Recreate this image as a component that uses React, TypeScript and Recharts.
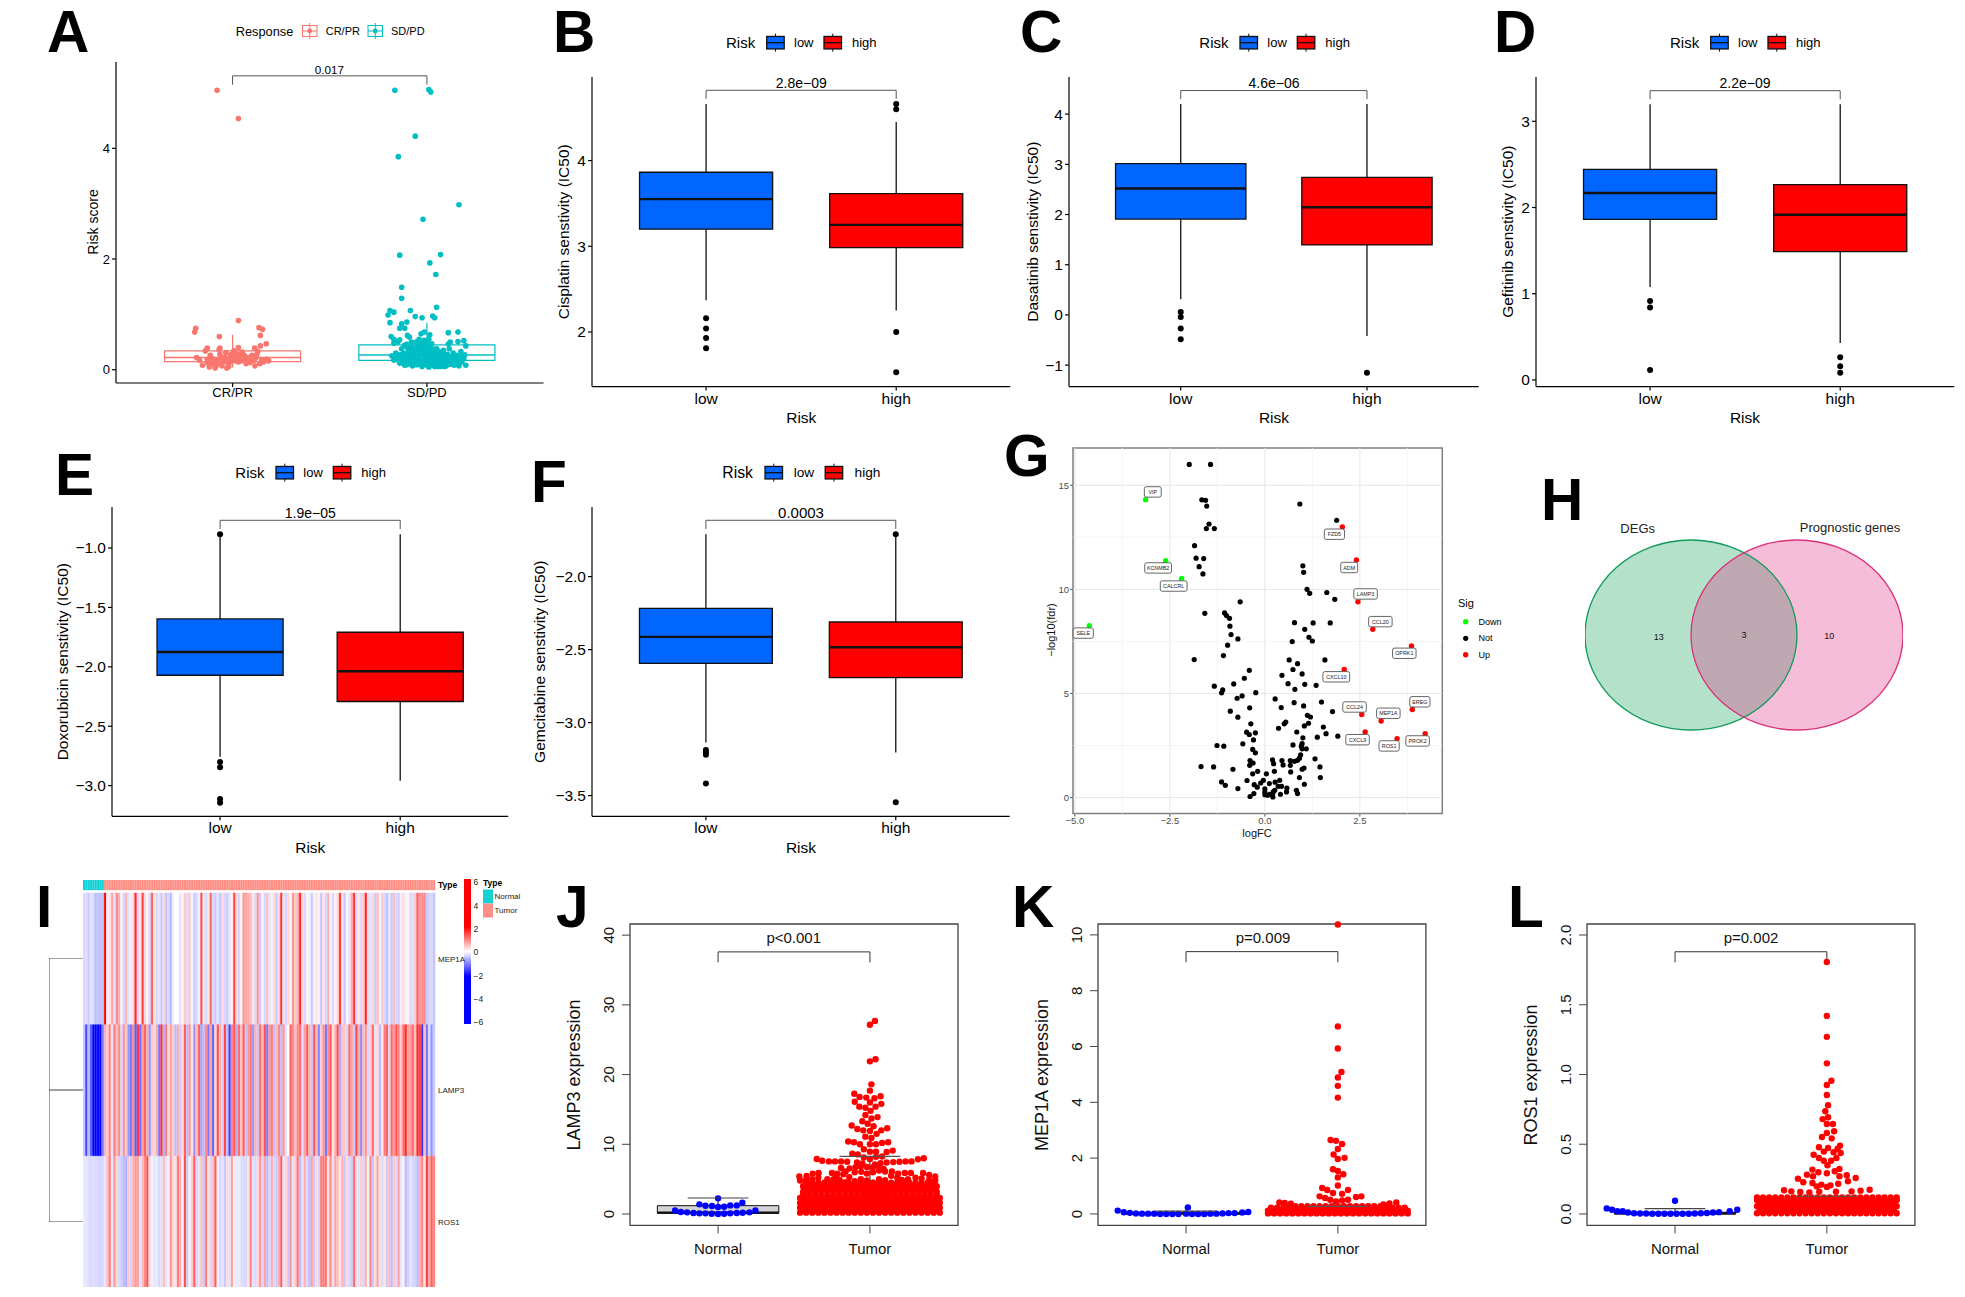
import React from 'react'
import { ScatterChart, Scatter, BarChart, Bar, Cell, XAxis, YAxis, ReferenceLine, ReferenceArea } from 'recharts'

// panel A: jittered x, risk score
const crPrPoints = [[.92,5.05],[1.03,4.54],[1.03,.89],[.81,.75],[.805,.68],[1.136,.76],[1.154,.73],[1.143,.62],[.932,.6],[1.173,.47],[1.143,.43],[1.03,.4],[.87,.39],[.86,.34],[.93,.36],[.935,.39],[1.114,.39],[1.13,.33],[1.007,.34],[.965,.31],
  [.815,.22],[.83,.17],[.845,.08],[.87,.13],[.88,.05],[.885,.26],[.895,.2],[.905,.1],[.91,.03],[.92,.17],[.935,.28],[.945,.07],[.95,.14],[.96,.23],[.97,.03],[.975,.12],[.985,.2],[.99,.27],[1.0,.19],[1.005,.3],[1.015,.16],[1.025,.24],[1.04,.2],[1.05,.32],[1.06,.26],[1.07,.11],[1.08,.22],[1.09,.13],[1.1,.26],[1.11,.17],[1.115,.07],[1.125,.28],[1.14,.11],[1.16,.14],[1.185,.16],[1.175,.19],[.9,.15],[.94,.22],[.98,.06],[1.03,.14],[1.06,.18],[.965,.17],[1.02,.29],[.87,.19],
  [.89,.12],[.915,.07],[.93,.12],[.955,.18],[.99,.14],[1.01,.23],[1.035,.27],[1.045,.16],[1.075,.17],[1.095,.2],[1.12,.22],[1.15,.18]]
const sdPdPoints = [[1.835,5.05],[2.01,5.06],[2.02,5.02],[1.94,4.22],[1.853,3.85],[2.165,2.98],[1.98,2.72],[2.07,2.08],[1.86,2.07],[2.015,1.93],[2.046,1.72],[1.87,1.49],[1.87,1.29],[2.05,1.13],[1.915,1.07],[1.81,1.07],[1.83,1.04],[1.8,.99],[1.94,.96],[1.975,.94],[2.04,.94],[2.03,.97],[1.81,.85],[1.897,.86],[1.87,.83],[1.86,.75],[1.886,.75],[2.11,.67],[2.16,.68],[1.987,.68],[1.97,.65],[2.015,.63],[1.9,.62],[1.816,.6],[1.83,.55],[1.86,.54],[1.91,.59],[2.19,.525],[2.16,.51],[2.11,.465],[2.2,.43],
  [1.82,.25],[1.84,.3],[1.85,.18],[1.86,.12],[1.87,.38],[1.875,.22],[1.88,.3],[1.885,.08],[1.89,.16],[1.895,.46],[1.9,.27],[1.905,.35],[1.91,.11],[1.915,.2],[1.92,.42],[1.925,.07],[1.93,.3],[1.935,.15],[1.94,.24],[1.945,.5],[1.95,.09],[1.955,.36],[1.96,.19],[1.965,.44],[1.97,.28],[1.975,.06],[1.98,.14],[1.985,.53],[1.99,.33],[1.995,.22],[2.0,.1],[2.005,.4],[2.01,.05],[2.015,.27],[2.02,.17],[2.025,.47],[2.03,.08],[2.035,.32],[2.04,.21],[2.045,.13],[2.05,.38],[2.055,.06],[2.06,.26],[2.065,.16],[2.07,.1],[2.075,.3],[2.08,.19],[2.085,.35],[2.09,.12],[2.095,.24],[2.1,.07],[2.105,.28],[2.11,.18],[2.115,.38],[2.12,.1],[2.125,.22],[2.13,.14],[2.135,.3],[2.14,.08],[2.145,.2],[2.15,.12],[2.155,.26],[2.16,.17],[2.165,.07],[2.17,.23],[2.175,.33],[2.18,.14],[2.19,.2],[2.2,.08],[2.195,.27],
  [1.86,.27],[1.88,.2],[1.9,.13],[1.92,.26],[1.94,.33],[1.96,.1],[1.98,.4],[2,.25],[2.02,.34],[2.04,.29],[2.06,.15],[2.08,.09],[2.1,.2],[1.87,.15],[1.91,.31],[1.93,.17],[1.95,.23],[1.97,.16],[1.99,.12],[2.01,.19],[2.03,.23],[2.05,.11],[2.07,.19],[2.09,.27],[2.11,.1],[2.13,.2],[2.15,.18],[1.97,.37],[1.99,.47],[2.01,.55],[1.96,.55],[1.92,.5],[1.885,.44],[1.85,.5],[1.83,.48],[2.12,.5],
  [1.88,.12],[1.895,.09],[1.905,.21],[1.92,.14],[1.93,.08],[1.945,.18],[1.955,.12],[1.965,.29],[1.98,.08],[1.985,.25],[1.995,.16],[2.005,.07],[2.01,.32],[2.02,.12],[2.03,.17],[2.04,.06],[2.05,.25],[2.06,.09],[2.07,.24],[2.08,.14],[2.09,.06],[2.1,.15],[2.12,.17],[2.14,.14],[2.16,.09],[2.17,.13],[2.18,.21],[1.9,.4],[1.93,.38],[1.95,.43],[1.97,.47],[2,.33],[2.02,.41],[2.04,.37],[2.06,.33],[2,.47],[1.94,.11],[1.96,.27],[1.99,.2],[2.03,.12],[2.07,.06],[1.84,.22],[1.86,.2],[1.83,.17],[1.89,.25],[2.05,.16],[2.11,.24],[2.14,.26]]
// box stats: lower whisker, q1, median, q3, upper whisker
const crPrBox = [.04,.145,.22,.34,.63]
const sdPdBox = [.05,.17,.265,.45,.85]

// panels B-F
const cisplatinLow = [2.37,3.2,3.55,3.864,4.66]
const cisplatinHigh = [2.25,2.985,3.25,3.615,4.45]
const cisplatinOutLow = [2.16,2.04,1.93,1.81]
const cisplatinOutHigh = [4.66,4.6,2.0,1.53]
const dasatinibLow = [.31,1.91,2.52,3.015,4.2]
const dasatinibHigh = [-.42,1.395,2.145,2.74,4.2]
const dasatinibOutLow = [.06,-.04,-.27,-.485]
const dasatinibOutHigh = [-1.15]
const gefitinibLow = [1.078,1.863,2.168,2.443,3.197]
const gefitinibHigh = [.429,1.488,1.917,2.265,3.197]
const gefitinibOutLow = [.916,.839,.116]
const gefitinibOutHigh = [.263,.158,.085]
const doxoLow = [-2.757,-2.071,-1.875,-1.597,-.885]
const doxoHigh = [-2.958,-2.292,-2.037,-1.709,-.885]
const doxoOutLow = [-.885,-2.8,-2.845,-3.112,-3.143]
const doxoOutHigh = []
const gemLow = [-3.137,-2.594,-2.413,-2.217,-1.71]
const gemHigh = [-3.205,-2.692,-2.484,-2.311,-1.71]
const gemOutLow = [-3.187,-3.205,-3.221,-3.418]
const gemOutHigh = [-1.71,-3.546]

// panel G: logFC, -log10(fdr)
const notSig = [[-1.99,16],[-1.43,16],[-1.66,14.3],[-1.56,14.28],[-1.53,14],[.92,14.1],[-1.47,13.14],[-1.54,12.92],[-1.33,12.92],[1.89,13.32],[-1.85,12.1],[-1.81,11.5],[-1.61,11.48],[-1.73,11.09],[-1.63,10.74],[1,11.13],[1.02,10.82],[1.11,10],[1.18,9.81],[1.63,9.85],[1.84,9.52],[-.65,9.4],[-1.58,8.85],[-1.06,8.87],[-1.01,8.74],[-.93,8.61],[-.92,8.23],[-.89,7.83],[-.71,7.62],[-.98,7.32],[-1.09,6.82],[-1.86,6.63],[.78,8.4],[1.27,8.39],[1.72,8.39],[1.05,8.08],[1.16,7.7],[1.25,7.52],[.72,7.49],[.64,6.61],[.86,6.43],[1.58,6.61],[-.41,6.11],[.74,6.15],[.98,5.94],[.45,5.87],[-.54,5.73],[-.82,5.46],[.61,5.47],[1.05,5.44],[1.35,5.39],[-1.33,5.35],[-1.11,5.17],[-1.14,5.03],[.79,5.2],[-.24,5.04],[-.6,4.88],[-.73,4.77],[.27,4.74],[.77,4.56],[1.49,4.59],[1.02,4.4],[-.4,4.31],[.43,4.32],[-.91,4.15],[1.78,4.13],[1.12,3.95],[1.2,3.87],[-.71,3.86],[.55,3.63],[.51,3.54],[1.15,3.57],[-.37,3.54],[1.04,3.44],[1.54,3.39],[.36,3.33],[.84,3.15],[-.48,3.14],[-.41,3.03],[-.25,3.11],[1.61,3.07],[1.92,2.95],[1.38,2.9],[1,2.87],[-.3,2.77],[-.58,2.58],[.98,2.59],[-1.26,2.5],[-1.08,2.47],[.74,2.53],[.96,2.47],[.98,2.34],[1.09,2.34],[-.32,2.31],[-.25,2.15],[.94,2.05],[1.32,1.86],[.91,1.89],[.86,1.79],[.2,1.81],[.45,1.78],[.67,1.78],[.78,1.74],[-.39,1.78],[-.4,1.55],[-.31,1.66],[.23,1.63],[.48,1.57],[.67,1.55],[-1.68,1.49],[-1.35,1.47],[1.45,1.47],[1.03,1.42],[.98,1.36],[-.84,1.36],[-.19,1.26],[.25,1.26],[.68,1.23],[-.32,1.14],[.04,1.14],[.91,.96],[1.46,.96],[.39,.83],[-.47,.82],[-.04,.83],[-.11,.7],[-1.14,.75],[-1.04,.59],[-.28,.62],[-.2,.5],[-.71,.43],[.12,.67],[.27,.74],[1.04,.64],[.35,.54],[.44,.54],[.58,.46],[0,.42],[.83,.35],[.57,.27],[.86,.19],[.41,.16],[.26,.35],[.22,.27],[.2,.16],[.13,.16],[0,.14],[0,.27],[.07,.11],[-.29,.19],[-.39,.05],[.21,.03]]
const upGenes = ['FZD5','ADM','LAMP3','CCL20','OPRK1','CXCL10','EREG','CCL24','MEP1A','CXCL9','PROK2','ROS1']
const upPoints = [[2.04,13],[2.41,11.41],[2.45,9.4],[2.84,8.08],[3.86,7.28],[2.09,6.15],[3.88,4.23],[2.55,3.99],[3.06,3.68],[2.64,3.15],[4.22,3.07],[3.48,2.83]]
const upLabels = [[1.83,12.65],[2.22,11.05],[2.65,9.78],[3.04,8.45],[3.67,6.93],[1.88,5.8],[4.08,4.6],[2.36,4.35],[3.25,4.05],[2.44,2.78],[4.02,2.72],[3.27,2.48]]
const downGenes = ['VIP','KCNMB2','CALCRL','SELE']
const downPoints = [[-3.14,14.31],[-2.61,11.38],[-2.19,10.52],[-4.62,8.26]]
const downLabels = [[-2.95,14.68],[-2.81,11.03],[-2.4,10.16],[-4.78,7.9]]

// panel H
const vennSets = [{ name: 'DEGs', x: -.5 }, { name: 'Prognostic genes', x: .5 }]

// panel I
const typeColumns = 9
const mep1a = [-.3,-.25,-.4,-.2,-.3,-.5,-.45,-.5,-.45,2,
  -.1,.2,.7,-.2,.9,.6,-.1,-.3,.6,-.2,
  -.1,.3,1.6,-.3,.2,1.4,.3,-.1,-.3,1.2,
  .2,-.3,-.2,-.4,.3,-.45,-.3,-.5,-.1,0,
  0,-.2,.1,.4,-.3,.4,-.1,-.4,-.3,-.1,
  1.3,-.2,-.3,.2,1.1,-.3,-.4,-.2,-.45,.3,
  -.3,-.4,-.2,.1,1.4,.3,-.3,.1,.8,.7,
  .6,.5,.2,-.3,.8,-.4,-.1,-.3,.5,-.2,
  -.1,.3,-.4,.2,1.5,-.2,-.3,.3,.1,.8,
  .4,.6,1.6,.3,-.3,.1,-.1,-.4,-.1,.2,
  .1,-.45,.2,-.3,.6,-.1,-.3,.1,.3,1.5,
  .2,-.4,.1,-.2,.6,1.5,-.3,.2,-.3,.4,
  1.6,-.3,-.2,.3,-.4,.5,-.1,.4,-.3,-.45,
  -.2,-.4,.5,-.3,-.35,-.1,.3,-.1,.1,-.3,
  -.25,.4,1.2,.8,.85,.9,-.4,-.35,-.3,-.45]
const lamp3 = [-.4,-1.4,-.5,-1.2,-2,-2.5,-2,-2.5,-1,.6,
  .4,.9,-.2,1,.5,.9,-.3,.8,.4,-.8,
  -1,.9,-1.2,1.5,-1.1,.8,1.2,.6,-.8,.4,
  .3,.6,-1,1.5,-.6,1,.3,.7,.4,-.5,
  .6,-.4,.3,1.2,-.5,.8,.2,-.8,.5,1.2,
  -.7,-.5,.9,-1,.7,-1.2,.3,1.3,.6,-.3,
  1.4,-.5,-1.4,.9,1.3,-.6,1.1,.5,1.2,-.4,
  .8,1,-.8,.6,-.4,1.1,.5,1.3,-1,.8,
  1,-.5,.5,.9,-.5,.8,-.2,0,1.2,.9,
  .5,.9,1.1,-.3,.7,1.2,.6,-.4,1.3,.5,
  -.9,.4,.8,-1,.9,1.2,.2,.6,1.3,-.6,
  .5,.4,-.3,1.1,.7,-.4,1.4,.6,-.9,.5,
  .8,-.3,.4,1.1,-.2,.3,-.5,.2,1,1.2,
  -.3,1.1,.8,1.3,.9,.4,1.1,1.6,.7,.8,
  1.1,.5,1.6,1.4,-1.5,.5,-1,-.3,-.8,-.4]
const ros1 = [-.15,-.2,-.25,-.3,-.25,-.3,-.3,-.35,-.3,-.2,
  .5,1,-.2,.8,.3,-.3,-.4,-.5,-.6,.4,
  -.3,.6,.8,.7,-.2,.5,.9,1.3,.3,-.1,
  -.2,-.15,-.3,-.2,.5,-.2,-.1,.8,.3,.2,
  1,.6,-.1,1.3,-.4,-.1,.4,1.2,-.3,-.2,
  .5,-.4,1,.2,-.3,.5,1.2,-.1,-.3,-.2,
  -.4,.3,-.2,.7,.1,-.15,-.15,-.25,-.3,-.3,
  .2,.9,-.2,-.3,.3,.8,-.3,.7,-.5,-.3,
  .6,-.3,-.4,.6,1.2,-.2,.3,-.4,.8,-.2,
  .4,1,-.5,-.2,.6,-.3,-.5,.7,-.4,.3,
  -.3,1,1,1,.2,.9,-.2,.7,.5,.2,
  .6,-.4,.3,-.3,-.4,1.1,.3,-.2,.4,-.3,
  .6,-.1,.9,-.4,.3,.7,.2,-.3,.2,-.4,
  .5,-.5,.4,-.3,.7,-.2,.1,-.5,-.35,-.2,
  -.3,-.35,-.5,.6,.9,.2,1.4,.7,1.2,.9]
const dendroTrunkX = [1,0,0,1]
const dendroTrunkY = [0,0,1,1]
const dendroBranchX = [0,1]
const dendroBranchY = [.5,.5]

// panels J-L. Single dots are [x, y]; the packed bottom of each swarm is [y, count]
const lampNormal = [[.717,.52],[.755,.29],[.796,.24],[.838,.14],[.877,.1],[.917,.1],[.958,.05],[1,0],[1.04,.05],[1.08,.1],[1.123,.14],[1.162,.19],[1.206,.24],[1.246,.52],[.877,1.39],[.917,1.19],[.96,1.15],[1,1],[1.04,1.05],[1.08,1.24],[1.123,1.24],[1.16,1.62],[1,2.25]]
const lampTumor = [[2.033,27.7],[2,27.15],[2.037,22.2],[2,21.9],[2.01,18.6],[2,17.7],[1.897,17.25],[1.932,16.8],[1.976,16.7],[2.03,16.6],[2.07,16.9],[1.9,16.1],[2,16],[2.075,15.8],[1.93,15.4],[1.97,15.25],[2.037,15.4],[2.004,14.8],[1.97,14.2],[2.01,13.7],[2.05,13.9],[1.95,13.3],[1.985,12.95],[1.88,12.7],[1.917,12.2],[1.956,12],[2,11.9],[2.024,12.6],[2.075,12],[2.114,12.3],[2.044,11.5],[1.97,11.1],[2.01,10.9],[1.857,10.4],[1.895,10.3],[1.934,10],[2,10],[2.04,10],[2.08,10.2],[2.12,10.3],[1.96,9.3],[2,8.95],[2.04,8.95],[2.11,8.9],[2.15,9.1],[1.884,8.65],[1.92,8.55],[2.355,8],[1.65,7.9],[2.316,7.85],[1.96,8.1],[2,7.9],[2.04,8.2],[2.08,8.25],[1.686,7.65],[1.73,7.55],[1.77,7.55],[1.81,7.55],[1.85,7.5],[1.915,7.4],[1.95,7.25],[2.033,7.1],[2.07,7.3],[2.11,7.4],[2.154,7.45],[2.195,7.5],[2.235,7.55],[2.274,7.55],
  [1.81,6.6],[1.866,6.55],[2.09,6.45],[1.75,5.9],[1.785,5.8],[1.825,5.7],[1.864,5.3],[1.9,6],[1.943,6.05],[1.98,5.8],[2.02,6],[2.06,6.25],[2.145,6.1],[2.186,5.8],[2.23,5.9],[2.27,5.9],[2.35,5.9],[2.39,5.6],[2.43,5.4],[2.3,5.2],[2.25,5],[2.21,4.9],[1.535,5.4],[1.583,5.45],[1.623,5.8],[1.662,5.9],[1.72,5],[1.76,5],[1.8,4.9],[1.84,4.55],[1.9,4.7],[1.94,5],[1.98,4.8],[2.02,4.5],[2.06,5],[2.1,4.85],[2.14,5.5],
  [1.905,6.7],[1.94,6.8],[1.98,6.75],[2.02,6.7],[2.055,6.95],[1.84,6.1],[2.1,6.1],[1.78,5.3],[1.54,4.8],[1.58,4.9],[1.62,5],[1.66,5.2],[2.34,5.1],[2.39,4.9],[2.43,4.8],[2.18,5.2]]
const lampTumorBands = [[.2,24],[.55,23],[.9,24],[1.25,23],[1.6,24],[1.95,23],[2.3,24],[2.7,23],[3.2,23],[3.55,22],[4,23],[4.5,22]]
const mepNormal = [[.55,.12],[.59,.06],[.63,.04],[.67,.02],[.71,.01],[.75,.01],[.79,.01],[.83,0],[.87,0],[.91,0],[.95,0],[1,.01],[1.012,.23],[1.04,0],[1.08,0],[1.12,0],[1.16,.01],[1.2,.01],[1.24,.02],[1.28,.03],[1.32,.03],[1.37,.05],[1.41,.07]]
const mepTumor = [[2,10.37],[2,6.72],[2,5.93],[2.024,5.09],[2,4.89],[2,4.59],[2,4.17],[1.952,2.65],[1.988,2.62],[2.028,2.51],[2,2.33],[1.972,2.13],[2,1.97],[2.044,2.01],[1.968,1.6],[2,1.54],[2.036,1.42],[2,1.31],[2,1.02],[1.897,.93],[1.93,.86],[2.067,.86],[1.968,.75],[2.028,.72],[1.88,.63],[1.916,.57],[1.95,.51],[1.988,.45],[2.028,.48],[2.067,.51],[2.12,.61],[2.155,.63],[1.615,.41],[1.65,.39],[1.69,.37],[2.385,.41],[2.34,.38],[2.3,.34]]
const mepTumorBands = [[.02,24],[.07,23],[.12,24],[.17,23],[.22,23],[.28,17]]
const rosNormal = [[.55,.04],[.585,.03],[.62,.02],[.655,.02],[.69,.01],[.73,.005],[.77,.003],[.81,.003],[.85,.002],[.89,.002],[.93,.002],[.97,.002],[1,.095],[1.01,.002],[1.05,.002],[1.09,.002],[1.13,.003],[1.17,.005],[1.21,.007],[1.25,.01],[1.29,.013],[1.36,.02],[1.41,.03]]
const rosTumor = [[2,1.806],[2,1.42],[2,1.27],[2,1.08],[2.03,.955],[2,.925],[2,.853],[2.008,.78],[1.99,.736],[1.972,.68],[2.008,.693],[2.04,.645],[2,.645],[2,.58],[2.048,.593],[1.968,.552],[2.032,.542],[2.087,.49],[1.948,.478],[2.008,.473],[2.071,.468],[1.98,.447],[2.044,.442],[1.913,.425],[2.091,.437],[1.948,.401],[2.063,.401],[1.98,.382],[2.028,.382],[2.004,.349],[1.905,.318],[2.083,.323],[1.944,.299],[2,.292],[2.052,.306],[1.869,.282],[1.909,.27],[2.083,.27],[2.131,.277],[1.81,.253],[2.19,.258],[1.845,.227],[1.905,.222],[1.964,.21],[2.024,.205],[2.075,.217],[2.139,.234],[1.933,.198],[2,.194],[1.718,.17],[1.766,.162],[1.825,.158],[1.885,.155],[2.163,.162],[2.222,.167],[2.282,.174],[1.95,.16],[2.06,.16]]
const rosTumorBands = [[.005,24],[.03,23],[.055,24],[.08,23],[.1,24],[.118,24]]

const SWARM_STEP = .04
const FONT = '"Liberation Sans", Arial, sans-serif'
const LOW_BLUE = '#0066ff'
const HIGH_RED = '#ff0000'

const toXY = (pts) => pts.map(([x, y]) => ({ x, y }))
const bandDots = (bands, center) =>
  bands.flatMap(([y, n]) => Array.from({ length: n }, (_, k) => ({ x: center + (k - (n - 1) / 2) * SWARM_STEP, y })))
const dot = (r, fill) => (p) => <circle cx={p.cx} cy={p.cy} r={r} fill={fill} />
const noDot = () => <g />
const minus = (s) => String(s).replace('-', '\u2212')

function heatColor(v) {
  const t = Math.min(1, Math.abs(v) / 1.9)
  const c = Math.round(255 * (1 - t))
  return v >= 0 ? `rgb(255,${c},${c})` : `rgb(${c},${c},255)`
}

// bars come out narrower than their band, so each cell is stroked in its own colour
const heatCell = (color, i) => <Cell key={i} fill={color} stroke={color} strokeWidth={.4} />

function seg(key, x1, y1, x2, y2, stroke, width) {
  return <ReferenceLine key={key} segment={[{ x: x1, y: y1 }, { x: x2, y: y2 }]} stroke={stroke} strokeWidth={width} ifOverflow="visible" />
}

function boxMarks(c, stats, opts) {
  const [lo, q1, med, q3, hi] = stats
  const hw = opts.half ?? .35
  const k = 'b' + c
  return [
    seg(k + 'u', c, q3, c, hi, opts.stroke, opts.line),
    seg(k + 'd', c, lo, c, q1, opts.stroke, opts.line),
    <ReferenceArea key={k + 'r'} x1={c - hw} x2={c + hw} y1={q1} y2={q3} fill={opts.fill} fillOpacity={1} stroke={opts.stroke} strokeWidth={opts.line} ifOverflow="visible" />,
    seg(k + 'm', c - hw, med, c + hw, med, opts.stroke, opts.medLine),
  ]
}

function bracketMarks(top, tip, stroke = '#555', width = 1) {
  return [
    seg('bt', 1, top, 2, top, stroke, width),
    seg('bl', 1, tip, 1, top, stroke, width),
    seg('br', 2, tip, 2, top, stroke, width),
  ]
}

function Plot({ plot, ax = 70, ay = 50, children }) {
  const [l, t, r, b] = plot
  const width = r - l + ax + 8
  const height = b - t + ay + 8
  return (
    <div style={{ position: 'absolute', left: l - ax, top: t - 8, width, height }}>
      <ScatterChart width={width} height={height} margin={{ top: 8, right: 8, bottom: 0, left: 0 }}>
        {children}
      </ScatterChart>
    </div>
  )
}

function ggAxes(yDom, yTicks, cats, font, yFmt, xMargin = 2) {
  return [
    <XAxis key="x" type="number" dataKey="x" domain={[.4, 2.6]} ticks={[1, 2]} interval={0} height={50} tickFormatter={(v) => cats[v - 1]}
      tick={{ fontSize: font, fill: '#000' }} tickSize={4} tickMargin={xMargin} stroke="#000" strokeWidth={1.2} />,
    <YAxis key="y" type="number" dataKey="y" domain={yDom} ticks={yTicks} interval={0} width={70} tickFormatter={yFmt ?? ((v) => minus(v))}
      tick={{ fontSize: font, fill: '#000' }} tickSize={4} tickMargin={2} stroke="#000" strokeWidth={1.2} />,
  ]
}

function RiskPanel({ plot, yDom, yTicks, low, high, outLow, outHigh, bracket, yFmt }) {
  const style = { stroke: '#111', line: 1.3, medLine: 2.4 }
  return (
    <Plot plot={plot}>
      {ggAxes(yDom, yTicks, ['low', 'high'], 15.5, yFmt)}
      {boxMarks(1, low, { ...style, fill: LOW_BLUE })}
      {boxMarks(2, high, { ...style, fill: HIGH_RED })}
      {bracketMarks(bracket[0], bracket[1])}
      <Scatter data={outLow.map((y) => ({ x: 1, y }))} shape={dot(3, '#000')} isAnimationActive={false} />
      <Scatter data={outHigh.map((y) => ({ x: 2, y }))} shape={dot(3, '#000')} isAnimationActive={false} />
    </Plot>
  )
}

function SwarmPanel({ plot, yDom, yTicks, normal, tumor, bands, normalBox, tumorBox, normalCap, tumorCap, bracket, yFmt }) {
  const style = { stroke: '#111', line: 1, medLine: 2.4, half: .4 }
  const RTick = (p) => (
    <text x={p.x - 6} y={p.y} transform={`rotate(-90 ${p.x - 6} ${p.y})`} textAnchor="middle" fontSize={15} fill="#111">{yFmt ? yFmt(p.payload.value) : p.payload.value}</text>
  )
  return (
    <Plot plot={plot}>
      <XAxis type="number" dataKey="x" domain={[.42, 2.58]} ticks={[1, 2]} interval={0} height={50} axisLine={false} tickFormatter={(v) => ['Normal', 'Tumor'][v - 1]}
        tick={{ fontSize: 15, fill: '#111' }} tickSize={8} tickMargin={10} stroke="#444" />
      <YAxis type="number" dataKey="y" domain={yDom} ticks={yTicks} interval={0} width={70} axisLine={false} tick={RTick} tickSize={8} tickMargin={2} stroke="#444" />
      <ReferenceArea x1={.42} x2={2.58} y1={yDom[0]} y2={yDom[1]} fill="none" stroke="#444" strokeWidth={1.3} ifOverflow="visible" />
      {boxMarks(1, normalBox, { ...style, fill: '#d3d3d3' })}
      {boxMarks(2, tumorBox, { ...style, fill: '#d3d3d3' })}
      {bracketMarks(bracket[0], bracket[1], '#333', 1)}
      <Scatter data={toXY(normal)} shape={dot(3.2, '#0000ff')} isAnimationActive={false} />
      <Scatter data={[...bandDots(bands, 2), ...toXY(tumor)]} shape={dot(3.2, '#ff0000')} isAnimationActive={false} />
      <Scatter data={[{ x: .8, y: normalCap }, { x: 1.2, y: normalCap }]} shape={noDot} line={{ stroke: '#444', strokeWidth: 1.2 }} isAnimationActive={false} />
      <Scatter data={[{ x: 1.8, y: tumorCap }, { x: 2.2, y: tumorCap }]} shape={noDot} line={{ stroke: '#555', strokeWidth: 1.2 }} isAnimationActive={false} />
    </Plot>
  )
}

const GeneChip = (p) => {
  const w = p.payload.name.length * 3.3 + 7
  return (
    <g>
      <rect x={p.cx - w / 2} y={p.cy - 5.2} width={w} height={10.4} rx={2} fill="#fff" stroke="#555" strokeWidth={.9} />
      <text x={p.cx} y={p.cy} textAnchor="middle" dominantBaseline="central" fontSize={5.4} fill="#222">{p.payload.name}</text>
    </g>
  )
}

function Volcano() {
  const xDom = [-5.05, 4.67]
  const yDom = [-.77, 16.79]
  const majorX = [-5, -2.5, 0, 2.5]
  const minorX = [-3.75, -1.25, 1.25, 3.75]
  const majorY = [0, 5, 10, 15]
  const minorY = [2.5, 7.5, 12.5]
  const links = [...upPoints.map((p, i) => [p, upLabels[i]]), ...downPoints.map((p, i) => [p, downLabels[i]])]
  const chips = [...upGenes.map((name, i) => ({ name, x: upLabels[i][0], y: upLabels[i][1] })), ...downGenes.map((name, i) => ({ name, x: downLabels[i][0], y: downLabels[i][1] }))]
  return (
    <div style={{ position: 'absolute', left: 1073 - 40, top: 447.7 - 8, width: 369.3 + 48, height: 365.6 + 38 }}>
      <ScatterChart width={417.3} height={403.6} margin={{ top: 8, right: 8, bottom: 0, left: 0 }}>
        <XAxis type="number" dataKey="x" domain={xDom} ticks={majorX} interval={0} height={30} axisLine={false} tickFormatter={(v) => minus(v.toFixed(1))}
          tick={{ fontSize: 9.5, fill: '#4d4d4d' }} tickSize={3} tickMargin={1} stroke="#555" />
        <YAxis type="number" dataKey="y" domain={yDom} ticks={majorY} interval={0} width={40} axisLine={false}
          tick={{ fontSize: 9.5, fill: '#4d4d4d' }} tickSize={3} tickMargin={1} stroke="#555" />
        {minorX.map((v) => <ReferenceLine key={'mx' + v} x={v} stroke="#f2f2f2" strokeWidth={.8} />)}
        {minorY.map((v) => <ReferenceLine key={'my' + v} y={v} stroke="#f2f2f2" strokeWidth={.8} />)}
        {majorX.map((v) => <ReferenceLine key={'Mx' + v} x={v} stroke="#e6e6e6" strokeWidth={1} />)}
        {majorY.map((v) => <ReferenceLine key={'My' + v} y={v} stroke="#e6e6e6" strokeWidth={1} />)}
        <ReferenceArea x1={xDom[0]} x2={xDom[1]} y1={yDom[0]} y2={yDom[1]} fill="none" stroke="#7f7f7f" strokeWidth={1.5} ifOverflow="visible" />
        {links.map(([a, b], i) => seg('lk' + i, a[0], a[1], b[0], b[1], '#222', .7))}
        <Scatter data={toXY(notSig)} shape={dot(2.6, '#000')} isAnimationActive={false} />
        <Scatter data={toXY(upPoints)} shape={dot(2.7, '#ff0000')} isAnimationActive={false} />
        <Scatter data={toXY(downPoints)} shape={dot(2.7, '#00ff00')} isAnimationActive={false} />
        <Scatter data={chips} shape={GeneChip} isAnimationActive={false} />
      </ScatterChart>
    </div>
  )
}

const VennShape = (p) => (
  <ellipse cx={p.cx} cy={p.cy} rx={106} ry={95} fill={p.payload.fill} fillOpacity={p.payload.alpha} stroke={p.payload.stroke} strokeWidth={1.3} />
)

function Venn() {
  const rows = [
    { ...vennSets[0], y: 0, fill: '#b4e1c9', alpha: 1, stroke: 'none' },
    { ...vennSets[1], y: 0, fill: '#dd237d', alpha: .3, stroke: 'none' },
    { ...vennSets[0], y: 0, fill: 'none', alpha: 0, stroke: '#129a5c' },
    { ...vennSets[1], y: 0, fill: 'none', alpha: 0, stroke: '#dc2f7a' },
  ]
  return (
    <div style={{ position: 'absolute', left: 1585, top: 535, width: 318, height: 200 }}>
      <ScatterChart width={318} height={200} margin={{ top: 0, right: 0, bottom: 0, left: 0 }}>
        <XAxis type="number" dataKey="x" domain={[-1.5, 1.5]} hide />
        <YAxis type="number" dataKey="y" domain={[-1, 1]} hide />
        <Scatter data={rows} shape={VennShape} isAnimationActive={false} />
      </ScatterChart>
    </div>
  )
}

function Heatmap() {
  const data = mep1a.map((_, i) => ({ i, ros1: 1, lamp3: 1, mep1a: 1, gap: .02, type: .076 }))
  return (
    <div style={{ position: 'absolute', left: 83.3, top: 880, width: 352.4, height: 407.3 }}>
      <BarChart width={352.4} height={407.3} data={data} barCategoryGap={0} barGap={0} margin={{ top: 0, right: 0, bottom: 0, left: 0 }}>
        <XAxis dataKey="i" hide />
        <YAxis domain={[0, 3.096]} hide />
        <Bar dataKey="ros1" stackId="h" isAnimationActive={false}>
          {ros1.map((v, i) => heatCell(heatColor(v), i))}
        </Bar>
        <Bar dataKey="lamp3" stackId="h" isAnimationActive={false}>
          {lamp3.map((v, i) => heatCell(heatColor(v), i))}
        </Bar>
        <Bar dataKey="mep1a" stackId="h" isAnimationActive={false}>
          {mep1a.map((v, i) => heatCell(heatColor(v), i))}
        </Bar>
        <Bar dataKey="gap" stackId="h" fill="#fff" isAnimationActive={false} />
        <Bar dataKey="type" stackId="h" isAnimationActive={false}>
          {mep1a.map((_, i) => heatCell(i < typeColumns ? '#14d2d4' : '#ff8f86', i))}
        </Bar>
      </BarChart>
    </div>
  )
}

function Dendrogram() {
  const trunk = dendroTrunkX.map((x, i) => ({ x, y: dendroTrunkY[i] }))
  const branch = dendroBranchX.map((x, i) => ({ x, y: dendroBranchY[i] }))
  return (
    <div style={{ position: 'absolute', left: 49.3, top: 958, width: 34, height: 264 }}>
      <ScatterChart width={34} height={264} margin={{ top: 0, right: 0, bottom: 0, left: 0 }}>
        <XAxis type="number" dataKey="x" domain={[0, 1]} hide />
        <YAxis type="number" dataKey="y" domain={[0, 1]} hide />
        <Scatter data={trunk} shape={noDot} line={{ stroke: '#444', strokeWidth: 1 }} isAnimationActive={false} />
        <Scatter data={branch} shape={noDot} line={{ stroke: '#444', strokeWidth: 1 }} isAnimationActive={false} />
      </ScatterChart>
    </div>
  )
}

const T = ({ x, y, s, size = 15.5, anchor = 'middle', weight, fill = '#000', rot }) => (
  <text x={x} y={y} fontSize={size} textAnchor={anchor} fontWeight={weight} fill={fill} dominantBaseline="central"
    transform={rot ? `rotate(${rot} ${x} ${y})` : undefined}>{s}</text>
)

const Letter = ({ x, y, s }) => <text x={x} y={y} fontSize={58.6} fontWeight="bold" fill="#000">{s}</text>

const Key = ({ x, y, w, h, stub, fill, stroke = '#111', sw = 1.3 }) => (
  <g>
    <line x1={x + w / 2} x2={x + w / 2} y1={y - stub} y2={y + stub} stroke={stroke} strokeWidth={1} />
    <rect x={x} y={y - h / 2} width={w} height={h} fill={fill} stroke={stroke} strokeWidth={sw} />
    <line x1={x} x2={x + w} y1={y} y2={y} stroke={stroke} strokeWidth={sw} />
  </g>
)

const RiskLegend = ({ x, y, k = 1 }) => (
  <g>
    <T x={x} y={y} s="Risk" anchor="start" size={15 * k} />
    <Key x={x + 40.7 * k} y={y} w={17.5} h={12.5} stub={9} fill={LOW_BLUE} />
    <T x={x + 68 * k} y={y} s="low" anchor="start" size={13 * k} />
    <Key x={x + 98 * k} y={y} w={17.5} h={12.5} stub={9} fill={HIGH_RED} />
    <T x={x + 126 * k} y={y} s="high" anchor="start" size={13 * k} />
  </g>
)

function Overlay() {
  return (
    <svg width={1965} height={1297} style={{ position: 'absolute', left: 0, top: 0, pointerEvents: 'none' }}>
      <Letter x={47} y={52} s="A" />
      <Letter x={553} y={52} s="B" />
      <Letter x={1020} y={52} s="C" />
      <Letter x={1494} y={52} s="D" />
      <Letter x={55} y={495} s="E" />
      <Letter x={531} y={502} s="F" />
      <Letter x={1004} y={476} s="G" />
      <Letter x={1541} y={520} s="H" />
      <Letter x={36} y={927} s="I" />
      <Letter x={556} y={927} s="J" />
      <Letter x={1012} y={927} s="K" />
      <Letter x={1508} y={927} s="L" />

      {/* A */}
      <T x={235.7} y={31} s="Response" anchor="start" size={12.8} />
      <Key x={302.5} y={31} w={14.5} h={11} stub={8} fill="none" stroke="#F8766D" sw={1} />
      <circle cx={309.7} cy={31} r={2.4} fill="#F8766D" />
      <T x={325.7} y={31} s="CR/PR" anchor="start" size={11} />
      <Key x={368} y={31} w={14.5} h={11} stub={8} fill="none" stroke="#00BFC4" sw={1} />
      <circle cx={375.2} cy={31} r={2.4} fill="#00BFC4" />
      <T x={391} y={31} s="SD/PD" anchor="start" size={11} />
      <T x={92.9} y={222} s="Risk score" size={14} rot={-90} />
      <T x={329.3} y={69} s="0.017" size={11.7} />

      {/* B-F */}
      <RiskLegend x={726} y={42.7} />
      <RiskLegend x={1199.3} y={42.7} />
      <RiskLegend x={1670} y={42.7} />
      <RiskLegend x={235.3} y={472.7} />
      <RiskLegend x={722.3} y={472.7} k={1.05} />
      <T x={563.3} y={231.7} s="Cisplatin senstivity (IC50)" rot={-90} />
      <T x={1032.3} y={231.7} s="Dasatinib senstivity (IC50)" rot={-90} />
      <T x={1507.7} y={231.7} s="Gefitinib senstivity (IC50)" rot={-90} />
      <T x={62.3} y={661.7} s="Doxorubicin senstivity (IC50)" rot={-90} />
      <T x={540} y={661.7} s="Gemcitabine senstivity (IC50)" rot={-90} />
      <T x={801.3} y={417.7} s="Risk" />
      <T x={1274} y={417.7} s="Risk" />
      <T x={1745} y={417.7} s="Risk" />
      <T x={310.3} y={847.7} s="Risk" />
      <T x={801} y={847.7} s="Risk" />
      <T x={801.3} y={82.7} s={'2.8e\u221209'} size={14} />
      <T x={1274} y={82.7} s={'4.6e\u221206'} size={14} />
      <T x={1745} y={82.7} s={'2.2e\u221209'} size={14} />
      <T x={310.3} y={512.7} s={'1.9e\u221205'} size={14} />
      <T x={801} y={512.7} s="0.0003" size={15} />

      {/* G */}
      <T x={1051} y={630} s={'\u2212log10(fdr)'} size={11} rot={-90} fill="#111" />
      <T x={1257} y={833} s="logFC" size={11} fill="#111" />
      <T x={1458} y={603} s="Sig" anchor="start" size={11} />
      <circle cx={1465.7} cy={621.7} r={2.7} fill="#00ff00" />
      <circle cx={1465.7} cy={638.3} r={2.6} fill="#000" />
      <circle cx={1465.7} cy={654.7} r={2.7} fill="#ff0000" />
      <T x={1478.5} y={621.7} s="Down" anchor="start" size={9} />
      <T x={1478.5} y={638.3} s="Not" anchor="start" size={9} />
      <T x={1478.5} y={654.7} s="Up" anchor="start" size={9} />

      {/* H */}
      <T x={1637.7} y={528.7} s="DEGs" size={13} fill="#222" />
      <T x={1850} y={527.3} s="Prognostic genes" size={13} fill="#222" />
      <T x={1658.7} y={636.7} s="13" size={9} fill="#111" />
      <T x={1744} y={634.7} s="3" size={9} fill="#111" />
      <T x={1829.3} y={636} s="10" size={9} fill="#111" />

      {/* I */}
      <T x={438} y={885} s="Type" anchor="start" size={8.5} weight="bold" />
      <T x={438} y={959} s="MEP1A" anchor="start" size={8} fill="#222" />
      <T x={438} y={1090.5} s="LAMP3" anchor="start" size={8} fill="#222" />
      <T x={438} y={1222} s="ROS1" anchor="start" size={8} fill="#222" />
      {[6, 4, 2, 0, -2, -4, -6].map((v, i) => (
        <T key={v} x={473.5} y={882.3 + i * 23.3} s={minus(v)} anchor="start" size={8.5} fill="#222" />
      ))}
      <T x={483} y={883} s="Type" anchor="start" size={8.5} weight="bold" />
      <rect x={483} y={889.5} width={10} height={14} fill="#14d2d4" />
      <rect x={483} y={903.5} width={10} height={14} fill="#ff8f86" />
      <T x={494.5} y={896.5} s="Normal" anchor="start" size={8} fill="#222" />
      <T x={494.5} y={910.5} s="Tumor" anchor="start" size={8} fill="#222" />

      {/* J-L */}
      <T x={574} y={1075} s="LAMP3 expression" size={18} rot={-90} fill="#111" />
      <T x={1042.3} y={1075} s="MEP1A expression" size={18} rot={-90} fill="#111" />
      <T x={1531} y={1075} s="ROS1 expression" size={18} rot={-90} fill="#111" />
      <T x={793.7} y={937.7} s="p<0.001" size={15} fill="#111" />
      <T x={1263} y={937.7} s="p=0.009" size={15} fill="#111" />
      <T x={1751} y={937.7} s="p=0.002" size={15} fill="#111" />
    </svg>
  )
}

export default function App() {
  return (
    <div style={{ position: 'absolute', left: 0, top: 0, width: 1965, height: 1297, background: '#fff', fontFamily: FONT, overflow: 'hidden' }}>
      <Plot plot={[115.9, 62, 543.4, 383]}>
        {ggAxes([-.24, 5.56], [0, 2, 4], ['CR/PR', 'SD/PD'], 13, undefined, 1)}
        {boxMarks(1, crPrBox, { stroke: '#F8766D', line: 1.2, medLine: 1.6, fill: 'none' })}
        {boxMarks(2, sdPdBox, { stroke: '#00BFC4', line: 1.2, medLine: 1.6, fill: 'none' })}
        {bracketMarks(5.31, 5.15)}
        <Scatter data={toXY(crPrPoints)} shape={dot(2.8, '#F8766D')} isAnimationActive={false} />
        <Scatter data={toXY(sdPdPoints)} shape={dot(2.8, '#00BFC4')} isAnimationActive={false} />
      </Plot>
      <RiskPanel plot={[591.7, 76.7, 1010, 386.3]} yDom={[1.363, 4.975]} yTicks={[2, 3, 4]} low={cisplatinLow} high={cisplatinHigh} outLow={cisplatinOutLow} outHigh={cisplatinOutHigh} bracket={[4.82, 4.72]} />
      <RiskPanel plot={[1069.3, 76.7, 1479, 386.3]} yDom={[-1.428, 4.74]} yTicks={[-1, 0, 1, 2, 3, 4]} low={dasatinibLow} high={dasatinibHigh} outLow={dasatinibOutLow} outHigh={dasatinibOutHigh} bracket={[4.47, 4.3]} />
      <RiskPanel plot={[1535.7, 76.7, 1954, 386.3]} yDom={[-.077, 3.514]} yTicks={[0, 1, 2, 3]} low={gefitinibLow} high={gefitinibHigh} outLow={gefitinibOutLow} outHigh={gefitinibOutHigh} bracket={[3.355, 3.255]} />
      <RiskPanel plot={[112, 507, 508.3, 816.3]} yDom={[-3.258, -.655]} yTicks={[-3, -2.5, -2, -1.5, -1]} yFmt={(v) => minus(v.toFixed(1))} low={doxoLow} high={doxoHigh} outLow={doxoOutLow} outHigh={doxoOutHigh} bracket={[-.767, -.84]} />
      <RiskPanel plot={[592.3, 507, 1010, 816.3]} yDom={[-3.642, -1.523]} yTicks={[-3.5, -3, -2.5, -2]} yFmt={(v) => minus(v.toFixed(1))} low={gemLow} high={gemHigh} outLow={gemOutLow} outHigh={gemOutHigh} bracket={[-1.614, -1.673]} />
      <Volcano />
      <Venn />
      <Dendrogram />
      <Heatmap />
      <div style={{ position: 'absolute', left: 464.3, top: 879, width: 6.7, height: 145.3, background: 'linear-gradient(#ff0000 0%, #ff0000 33%, #ffffff 50%, #0000ff 67%, #0000ff 100%)' }} />
      <SwarmPanel plot={[630, 924.3, 958, 1225.7]} yDom={[-1.63, 41.6]} yTicks={[0, 10, 20, 30, 40]} normal={lampNormal} tumor={lampTumor} bands={lampTumorBands} normalBox={[.05, .1, .2, 1.2, 2.25]} tumorBox={[.05, .9, 2, 3.9, 8.27]} normalCap={2.3} tumorCap={8.27} bracket={[37.6, 36.1]} />
      <SwarmPanel plot={[1098.4, 924.3, 1426.3, 1225.7]} yDom={[-.41, 10.39]} yTicks={[0, 2, 4, 6, 8, 10]} normal={mepNormal} tumor={mepTumor} bands={mepTumorBands} normalBox={[0, 0, .01, .05, .1]} tumorBox={[0, .01, .05, .12, .27]} normalCap={.1} tumorCap={.27} bracket={[9.4, 9.02]} />
      <SwarmPanel plot={[1587.2, 924.3, 1915.1, 1225.7]} yDom={[-.082, 2.079]} yTicks={[0, .5, 1, 1.5, 2]} yFmt={(v) => v.toFixed(1)} normal={rosNormal} tumor={rosTumor} bands={rosTumorBands} normalBox={[0, 0, .005, .012, .038]} tumorBox={[0, .01, .03, .06, .127]} normalCap={.038} tumorCap={.127} bracket={[1.88, 1.804]} />
      <Overlay />
    </div>
  )
}
